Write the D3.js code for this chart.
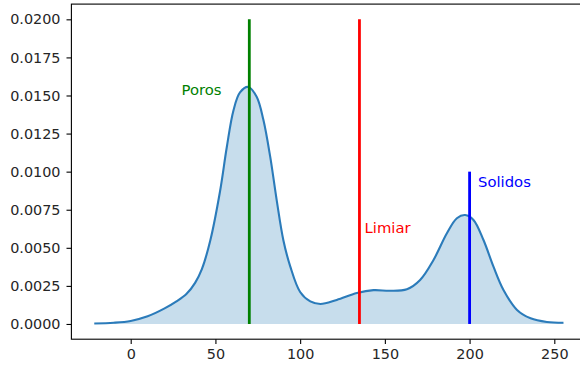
<!DOCTYPE html>
<html>
<head>
<meta charset="utf-8">
<script src="https://cdn.jsdelivr.net/npm/d3@7"></script>
<style>
  body { margin: 0; background: #fff; }
  text { font-family: "DejaVu Sans", sans-serif; }
</style>
</head>
<body>
<div id="canvas"></div>
<script>
const W = 580, H = 368;

// kde curve
const kdeX = [-21.5, -10, 0, 10, 20, 27, 33, 38, 42, 47, 52.7, 56.7, 60.6, 64.5, 69.4, 74.4, 78.3, 82.3, 86.2, 90.1, 94.1, 100, 106, 112, 121.6, 133.5, 143.3, 153, 163, 170.8, 178.7, 186.6, 192.5, 197.4, 202.3, 208.2, 214.1, 220, 228, 236, 245.6, 255.4];
const kdeY = [0.00003, 0.00008, 0.0002, 0.0005, 0.00102, 0.00148, 0.00198, 0.0027, 0.0036, 0.0055, 0.0087, 0.0116, 0.0140, 0.0152, 0.01556, 0.0149, 0.0134, 0.0110, 0.0081, 0.0055, 0.0038, 0.0021, 0.00148, 0.00131, 0.00158, 0.00203, 0.00222, 0.00218, 0.00228, 0.00289, 0.0042, 0.00595, 0.00694, 0.00715, 0.00683, 0.00551, 0.00376, 0.00223, 0.00092, 0.00037, 0.00013, 0.00008];

const xTicks = [0, 50, 100, 150, 200, 250];
const yTicks = [0, 0.0025, 0.005, 0.0075, 0.01, 0.0125, 0.015, 0.0175, 0.02];

const markX = [70, 135, 200];
const markTop = [0.02, 0.02, 0.01];
const markColor = ['#008000', '#ff0000', '#0000ff'];
const labelText = ['Poros', 'Limiar', 'Solidos'];
const labelX = [30, 138, 205];
const labelY = [0.015, 0.006, 0.009];

const x = d3.scaleLinear().domain([-35, 269]).range([71.4, 586.5]);
const y = d3.scaleLinear().domain([-0.001, 0.021]).range([339.2, 4.1]);

const svg = d3.select("#canvas")
  .append("svg")
  .attr("width", W)
  .attr("height", H);

const pts = kdeX.map((v, i) => [v, kdeY[i]]);
const smooth = d3.curveCatmullRom.alpha(0.5);

svg.append("path")
  .datum(pts)
  .attr("fill", "#1f77b4")
  .attr("fill-opacity", 0.25)
  .attr("d", d3.area().x(d => x(d[0])).y0(y(0)).y1(d => y(d[1])).curve(smooth));

svg.append("path")
  .datum(pts)
  .attr("fill", "none")
  .attr("stroke", "#2b7bba")
  .attr("stroke-width", 2.1)
  .attr("d", d3.line().x(d => x(d[0])).y(d => y(d[1])).curve(smooth));

svg.selectAll("line.mark")
  .data(markX)
  .enter()
  .append("line")
  .attr("class", "mark")
  .attr("x1", d => x(d))
  .attr("x2", d => x(d))
  .attr("y1", y(0))
  .attr("y2", (d, i) => y(markTop[i]))
  .attr("stroke", (d, i) => markColor[i])
  .attr("stroke-width", 2.8);

svg.selectAll("text.label")
  .data(labelText)
  .enter()
  .append("text")
  .attr("class", "label")
  .attr("x", (d, i) => x(labelX[i]))
  .attr("y", (d, i) => y(labelY[i]))
  .attr("fill", (d, i) => markColor[i])
  .attr("font-size", "14.8px")
  .text(d => d);

// axes
const xAxis = d3.axisBottom(x).tickValues(xTicks).tickSize(4.9).tickPadding(4.5).tickFormat(d3.format("d"));
const yAxis = d3.axisLeft(y).tickValues(yTicks).tickSize(4.9).tickPadding(6).tickFormat(d3.format(".4f"));

const gx = svg.append("g")
  .attr("transform", `translate(0, ${y.range()[0]})`)
  .call(xAxis);
const gy = svg.append("g")
  .attr("transform", `translate(${x.range()[0]}, 0)`)
  .call(yAxis);

[gx, gy].forEach(g => {
  g.select(".domain").remove();
  g.selectAll("line").attr("stroke", "#000").attr("stroke-width", 1.1);
  g.selectAll("text").attr("fill", "#262626").attr("font-size", "14.4px").attr("font-family", "DejaVu Sans");
});

// spines
svg.append("rect")
  .attr("x", x.range()[0])
  .attr("y", y.range()[1])
  .attr("width", x.range()[1] - x.range()[0])
  .attr("height", y.range()[0] - y.range()[1])
  .attr("fill", "none")
  .attr("stroke", "#000")
  .attr("stroke-width", 1.1);
</script>
</body>
</html>
